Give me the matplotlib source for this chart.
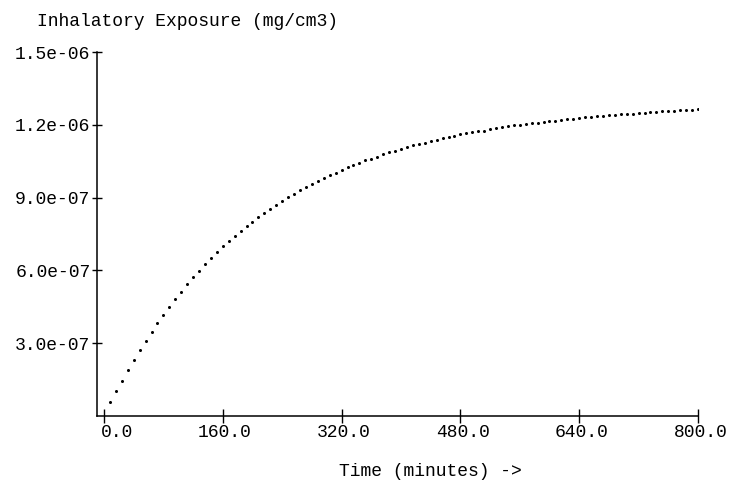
import numpy as np
import matplotlib
matplotlib.use("Agg")
import matplotlib.pyplot as plt

# sample times (minutes), one dot every 8 minutes
time_min = np.arange(1, 101) * 8

# inhalatory exposure, in units of 1e-7 mg/cm3
exposure_e7 = [
    0.565, 1.018, 1.455, 1.883, 2.308, 2.707, 3.091, 3.462, 3.833, 4.175,
    4.492, 4.822, 5.122, 5.440, 5.716, 5.988, 6.252, 6.511, 6.758, 6.993,
    7.199, 7.430, 7.636, 7.830, 8.007, 8.201, 8.378, 8.543, 8.695, 8.860,
    9.013, 9.149, 9.313, 9.437, 9.561, 9.697, 9.808, 9.919, 10.027, 10.138,
    10.249, 10.344, 10.438, 10.537, 10.603, 10.686, 10.797, 10.867, 10.933, 11.016,
    11.085, 11.155, 11.209, 11.263, 11.333, 11.386, 11.444, 11.510, 11.551, 11.609,
    11.650, 11.691, 11.733, 11.765, 11.807, 11.856, 11.897, 11.938, 11.980, 12.005,
    12.021, 12.062, 12.087, 12.103, 12.145, 12.169, 12.198, 12.227, 12.252, 12.281,
    12.309, 12.334, 12.363, 12.375, 12.404, 12.417, 12.433, 12.445, 12.458, 12.474,
    12.499, 12.528, 12.540, 12.557, 12.569, 12.582, 12.590, 12.602, 12.619, 12.639,
]
exposure = np.array(exposure_e7) * 1e-7

x_ticks = [0, 160, 320, 480, 640, 800]
x_labels = ["0.0", "160.0", "320.0", "480.0", "640.0", "800.0"]
y_ticks = [3.0e-7, 6.0e-7, 9.0e-7, 1.2e-6, 1.5e-6]
y_labels = ["3.0e-07", "6.0e-07", "9.0e-07", "1.2e-06", "1.5e-06"]

plt.rcParams["font.family"] = ["Liberation Mono", "DejaVu Sans Mono"]
fs = 13

fig = plt.figure(figsize=(7.3, 4.82), dpi=100)
ax = fig.add_axes([97 / 730, 66 / 482, 601 / 730, 364 / 482])

ax.plot(time_min, exposure, linestyle="none", marker="o", ms=2.2,
        color="black", markeredgewidth=0)

ax.set_xlim(-9.4, 800)
ax.set_ylim(0, 1.5e-6)

for side in ("top", "right"):
    ax.spines[side].set_visible(False)
for side in ("left", "bottom"):
    ax.spines[side].set_linewidth(1.1)
    ax.spines[side].set_color("black")

ax.set_yticks(y_ticks)
ax.set_yticklabels(y_labels, fontsize=fs)
ax.tick_params(axis="y", direction="inout", length=7.5, width=1.0, pad=1)

ax.set_xticks(x_ticks)
ax.set_xticklabels([])
ax.tick_params(axis="x", direction="inout", length=10, width=1.0)

# x labels sit right-aligned a little past each tick
for t, lab in zip(x_ticks, x_labels):
    ax.annotate(lab, xy=(t, 0), xycoords=("data", "axes fraction"),
                xytext=(21, -6), textcoords="offset points",
                ha="right", va="top", fontsize=fs)

fig.text(37 / 730, 1 - 22 / 482, "Inhalatory Exposure (mg/cm3)",
         ha="left", va="center", fontsize=fs)
fig.text(339 / 730, 1 - 471 / 482, "Time (minutes) ->",
         ha="left", va="center", fontsize=fs)

fig.savefig("out.png", dpi=100, facecolor="white")
